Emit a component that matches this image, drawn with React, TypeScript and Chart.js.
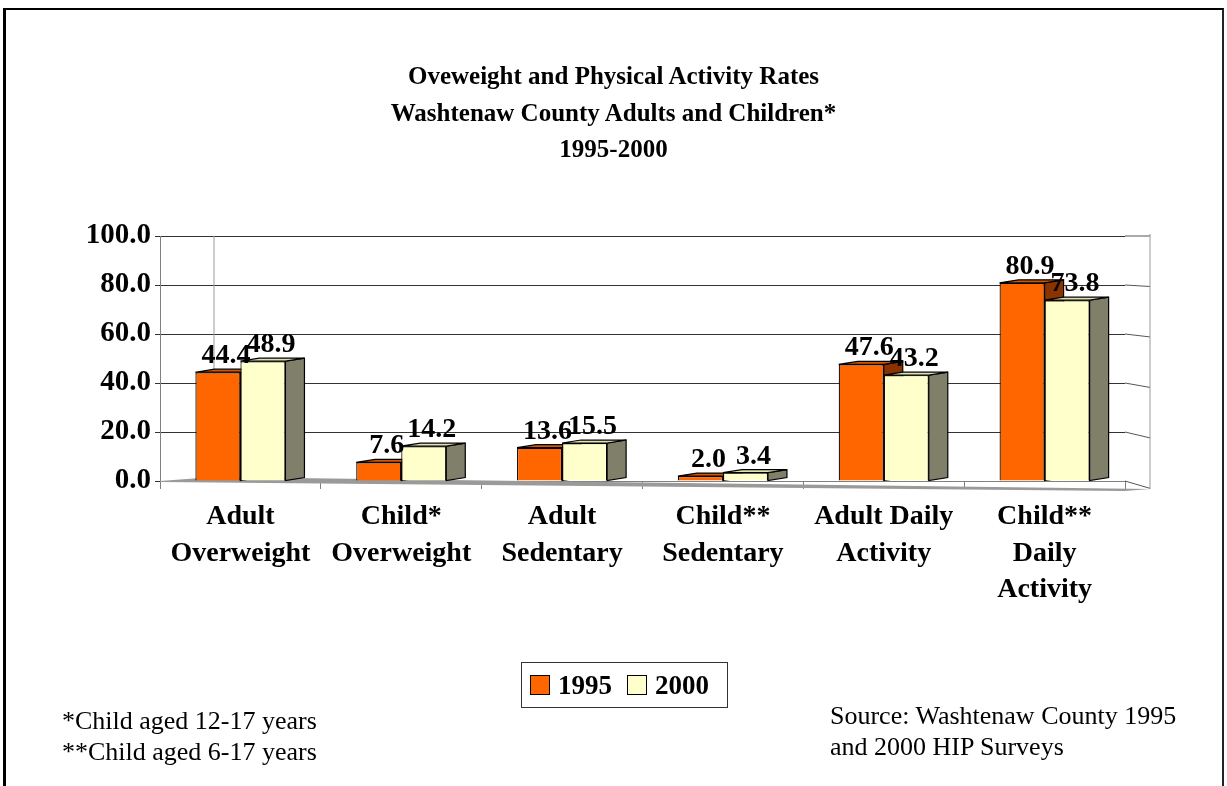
import React, { useEffect, useRef } from "react";
import { Chart, registerables } from "chart.js";

Chart.register(...registerables);

const categories: string[][] = [
  ["Adult", "Overweight"],
  ["Child*", "Overweight"],
  ["Adult", "Sedentary"],
  ["Child**", "Sedentary"],
  ["Adult Daily", "Activity"],
  ["Child**", "Daily", "Activity"],
];
const values1995 = [44.4, 7.6, 13.6, 2.0, 47.6, 80.9];
const values2000 = [48.9, 14.2, 15.5, 3.4, 43.2, 73.8];
const seriesNames = ["1995", "2000"];
const titleLines = [
  "Oveweight and Physical Activity Rates",
  "Washtenaw County Adults and Children*",
  "1995-2000",
];
const footnotes = ["*Child aged 12-17 years", "**Child aged 6-17 years"];
const sourceLines = ["Source: Washtenaw County 1995", "and 2000 HIP Surveys"];

const SERIF = "'Liberation Serif', 'Times New Roman', serif";
const FRONT = ["#FF6600", "#FFFFCC"];
const SIDE = ["#8B3300", "#80806A"];
const TOP = ["#D45500", "#E0E0B0"];

const DX = 19;
const DY = -3;

const depthPlugin = {
  id: "depth3d",
  beforeDatasetsDraw(chart: any) {
    const ctx = chart.ctx;
    const ca = chart.chartArea;
    ctx.save();
    const yScale = chart.scales.y;
    ctx.strokeStyle = "#555";
    ctx.lineWidth = 1;
    yScale.ticks.forEach((t: any) => {
      const py = yScale.getPixelForValue(t.value);
      ctx.beginPath();
      ctx.moveTo(ca.right, py);
      ctx.lineTo(ca.right + 25, py + (py - ca.top) * 0.03);
      ctx.stroke();
    });
    ctx.strokeStyle = "#999";
    ctx.beginPath();
    ctx.moveTo(ca.right + 25, ca.top - 2);
    ctx.lineTo(ca.right + 25, ca.bottom + 8);
    ctx.stroke();
    ctx.beginPath();
    ctx.moveTo(ca.left + 54, ca.top);
    ctx.lineTo(ca.left + 54, ca.bottom - 3);
    ctx.stroke();
    ctx.fillStyle = "#9a9a9a";
    ctx.beginPath();
    ctx.moveTo(ca.left, ca.bottom);
    ctx.lineTo(ca.left + 54, ca.bottom - 4);
    ctx.lineTo(ca.right + 25, ca.bottom + 8);
    ctx.lineTo(ca.right, ca.bottom + 10);
    ctx.lineTo(ca.left, ca.bottom + 1);
    ctx.closePath();
    ctx.fill();

    for (let d = 0; d < chart.data.datasets.length; d++) {
      const meta = chart.getDatasetMeta(d);
      meta.data.forEach((el: any) => {
        const { x, y, base, width } = el.getProps(["x", "y", "base", "width"], true);
        const l = x - width / 2;
        const r = x + width / 2;
        ctx.lineWidth = 1.2;
        ctx.strokeStyle = "#000";
        ctx.fillStyle = SIDE[d];
        ctx.beginPath();
        ctx.moveTo(r, y);
        ctx.lineTo(r + DX, y + DY);
        ctx.lineTo(r + DX, base + DY);
        ctx.lineTo(r, base);
        ctx.closePath();
        ctx.fill();
        ctx.stroke();
        ctx.fillStyle = TOP[d];
        ctx.beginPath();
        ctx.moveTo(l, y);
        ctx.lineTo(l + DX, y + DY);
        ctx.lineTo(r + DX, y + DY);
        ctx.lineTo(r, y);
        ctx.closePath();
        ctx.fill();
        ctx.stroke();
      });
    }
    ctx.restore();
  },
  afterDatasetsDraw(chart: any) {
    const ctx = chart.ctx;
    ctx.save();
    ctx.font = `bold 28px ${SERIF}`;
    ctx.fillStyle = "#000";
    ctx.textAlign = "center";
    ctx.textBaseline = "alphabetic";
    chart.data.datasets.forEach((ds: any, d: number) => {
      const meta = chart.getDatasetMeta(d);
      meta.data.forEach((el: any, i: number) => {
        const v = ds.data[i] as number;
        ctx.fillText(v.toFixed(1), el.x + 8, el.y - 9);
      });
    });
    ctx.restore();
  },
};

export default function App() {
  const ref = useRef<HTMLCanvasElement | null>(null);

  useEffect(() => {
    if (!ref.current) return;
    const chart = new Chart(ref.current, {
      type: "bar",
      data: {
        labels: categories as any,
        datasets: [
          {
            label: seriesNames[0],
            data: values1995,
            backgroundColor: FRONT[0],
            borderColor: "#000",
            borderWidth: 1.2,
          },
          {
            label: seriesNames[1],
            data: values2000,
            backgroundColor: FRONT[1],
            borderColor: "#000",
            borderWidth: 1.2,
          },
        ],
      },
      options: {
        responsive: false,
        animation: false,
        devicePixelRatio: 1,
        layout: { padding: { top: 236, left: 0, right: 102, bottom: 155 } },
        plugins: {
          legend: { display: false },
          tooltip: { enabled: false },
          title: { display: false },
        },
        datasets: {
          bar: { categoryPercentage: 0.56, barPercentage: 1 },
        },
        scales: {
          y: {
            min: 0,
            max: 100,
            ticks: {
              stepSize: 20,
              callback: (v: any) => Number(v).toFixed(1),
              font: { family: SERIF, size: 29, weight: "bold" },
              color: "#000",
              padding: 4,
            },
            grid: { color: "#333", tickLength: 5, lineWidth: 1 },
            border: { color: "#808080" },
            afterFit: (s: any) => {
              s.width = 160;
            },
          },
          x: {
            offset: true,
            grid: {
              offset: true,
              drawOnChartArea: false,
              drawTicks: true,
              tickLength: 8,
              color: "#808080",
            },
            border: { color: "#808080" },
            ticks: {
              font: { family: SERIF, size: 28, weight: "bold", lineHeight: 1.3 },
              color: "#000",
              padding: 10,
              maxRotation: 0,
              autoSkip: false,
            },
            afterFit: (s: any) => {
              s.height = 150;
            },
          },
        },
      },
      plugins: [depthPlugin],
    });
    return () => chart.destroy();
  }, []);

  return (
    <div
      style={{
        position: "absolute",
        left: 0,
        top: 0,
        width: 1227,
        height: 786,
        overflow: "hidden",
        background: "#fff",
        fontFamily: SERIF,
      }}
    >
      <div
        style={{
          position: "absolute",
          left: 3,
          top: 8,
          width: 1216,
          height: 800,
          borderTop: "2px solid #000",
          borderLeft: "3px solid #000",
          borderRight: "2px solid #222",
        }}
      />
      <canvas ref={ref} width={1227} height={786} style={{ position: "absolute", left: 0, top: 0 }} />
      <div
        style={{
          position: "absolute",
          left: 0,
          width: 1227,
          top: 58,
          textAlign: "center",
          fontWeight: "bold",
          fontSize: 25,
          lineHeight: "36.5px",
          color: "#000",
        }}
      >
        {titleLines.map((t) => (
          <div key={t}>{t}</div>
        ))}
      </div>
      <div
        style={{
          position: "absolute",
          left: 521,
          top: 662,
          width: 205,
          height: 44,
          border: "1px solid #333",
          display: "flex",
          alignItems: "center",
          fontWeight: "bold",
          fontSize: 27,
          color: "#000",
        }}
      >
        {seriesNames.map((n, i) => (
          <div key={n} style={{ display: "flex", alignItems: "center", marginLeft: i === 0 ? 8 : 15 }}>
            <div
              style={{
                width: 18,
                height: 18,
                background: FRONT[i],
                border: "1.5px solid #000",
                marginRight: 8,
              }}
            />
            <span>{n}</span>
          </div>
        ))}
      </div>
      <div
        style={{
          position: "absolute",
          left: 62,
          top: 705,
          fontSize: 26,
          lineHeight: "31px",
          color: "#000",
        }}
      >
        {footnotes.map((t) => (
          <div key={t}>{t}</div>
        ))}
      </div>
      <div
        style={{
          position: "absolute",
          left: 830,
          top: 700,
          fontSize: 26,
          lineHeight: "31px",
          color: "#000",
        }}
      >
        {sourceLines.map((t) => (
          <div key={t}>{t}</div>
        ))}
      </div>
    </div>
  );
}
